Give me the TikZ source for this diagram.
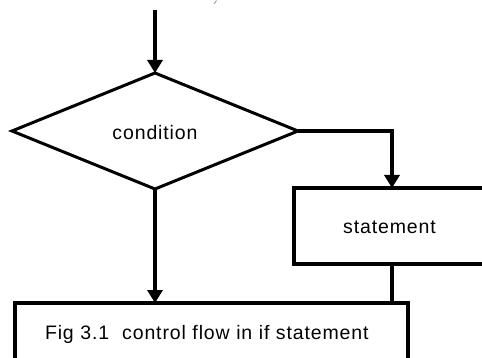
\documentclass[tikz,border=0pt]{standalone}
\usepackage{fontspec}
\setmainfont{Liberation Sans}[LetterSpace=4.5]
\usetikzlibrary{shapes.geometric,arrows.meta}
\begin{document}
\begin{tikzpicture}[x=1pt,y=-1pt,
  flow/.style={line width=3.4pt},
  flowarrow/.style={flow,-{Triangle[length=13pt,width=15pt]}},
  box/.style={draw,line width=3.4pt,rectangle,inner sep=0pt,outer sep=0pt},
  decision/.style={draw,line width=3pt,diamond,inner sep=0pt,outer sep=0pt},
  every node/.style={font=\fontsize{19.5pt}{23pt}\selectfont}]
\useasboundingbox (0,0) rectangle (482,358);
\clip (0,0) rectangle (482,358);

% entry point of the flow
\coordinate (entry) at (155,10);

% decision and the conditional statement
\node[decision, minimum width=286pt, minimum height=116pt,
      text height=18pt, text depth=0pt] (cond) at (155,131) {condition};
\node[box, minimum width=196pt, minimum height=76pt,
      text height=16pt, text depth=0pt] (stmt) at (392,226) {statement\hspace*{5pt}};

% caption box at the bottom
\node[box, anchor=north west, text width=333pt, inner xsep=30pt, align=left,
      minimum height=62pt, text height=14pt, text depth=4pt] (cap) at (15,303)
      {Fig 3.1~~control flow in if statement};

% connectors
\draw[flowarrow] (entry) -- (cond.north);
\draw[flowarrow] (cond.east) -| (stmt.north);
\draw[flow] (stmt.south) -- (stmt.south |- cap.north);
\draw[flowarrow] (cond.south) -- (cond.south |- cap.north);

% small stray mark near the top edge
\draw[gray!70, line width=1pt] (216.5,0.5) -- (214,4);
\end{tikzpicture}
\end{document}
